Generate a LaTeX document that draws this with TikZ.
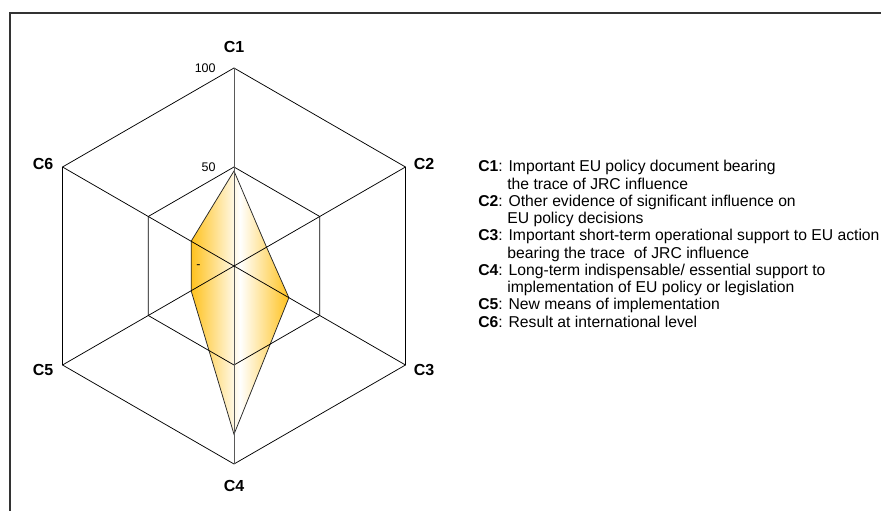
\documentclass[tikz,border=0pt]{standalone}
\usepackage{fontspec}
\setmainfont{Liberation Sans}
\definecolor{webgold}{RGB}{255,194,30}
\tikzset{
  axislabel/.style={font=\fontsize{16}{18}\selectfont\bfseries, inner sep=0pt},
  ticklabel/.style={font=\fontsize{12.5}{14}\selectfont, inner sep=0pt, anchor=east},
  legendline/.style={font=\fontsize{15.7}{17}\selectfont, inner sep=0pt, anchor=base west}
}
\begin{document}
\begin{tikzpicture}[x=1pt, y=1pt, yscale=1, xscale=1, line width=0.75pt]
\useasboundingbox (0,0) rectangle (881,511);
\draw[line width=1.2pt, black!80] (10,0) -- (10,498) -- (881,498);
\begin{scope}[shift={(234,245)}]
% data
\draw[black!85, left color=webgold, right color=webgold, middle color=white]
  (90:95) -- (30:37.6) -- (-30:63.4) -- (-90:168.3) -- (-150:49.5) -- (150:49.5) -- cycle;
% web
\draw (90:99) -- (30:99) -- (-30:99) -- (-90:99) -- (-150:99) -- (150:99) -- cycle;
\draw (90:198) -- (30:198) -- (-30:198) -- (-90:198) -- (-150:198) -- (150:198) -- cycle;
\draw[black!65] (0,0) -- (90:198);
\draw[black!65] (0,0) -- (-90:198);
\draw (0,0) -- (30:198);
\draw (0,0) -- (-30:198);
\draw (0,0) -- (150:198);
\draw (0,0) -- (-150:198);
\end{scope}
%Text
\node[axislabel] (c1) at (234,464) {C1};
\node[axislabel] (c2) at (424,347) {C2};
\node[axislabel] (c3) at (424,141) {C3};
\node[axislabel] (c4) at (234,25) {C4};
\node[axislabel] (c5) at (43,141) {C5};
\node[axislabel] (c6) at (43,347) {C6};
\node[ticklabel] (t100) at (216,443) {100};
\node[ticklabel] (t50) at (216,344) {50};
\node[ticklabel] (tdash) at (201,244) {-};
\node[legendline] (l1) at (478,339) {\textbf{C1}: Important EU policy document bearing};
\node[legendline] (l1b) at (507,321.75) {the trace of JRC influence};
\node[legendline] (l2) at (478,304.5) {\textbf{C2}: Other evidence of significant influence on};
\node[legendline] (l2b) at (507,287.25) {EU policy decisions};
\node[legendline] (l3) at (478,270) {\textbf{C3}: Important short-term operational support to EU action};
\node[legendline] (l3b) at (507,252.75) {bearing the trace~ of JRC influence};
\node[legendline] (l4) at (478,235.5) {\textbf{C4}: Long-term indispensable/ essential support to};
\node[legendline] (l4b) at (507,218.25) {implementation of EU policy or legislation};
\node[legendline] (l5) at (478,201) {\textbf{C5}: New means of implementation};
\node[legendline] (l6) at (478,183.75) {\textbf{C6}: Result at international level};
\end{tikzpicture}
\end{document}
